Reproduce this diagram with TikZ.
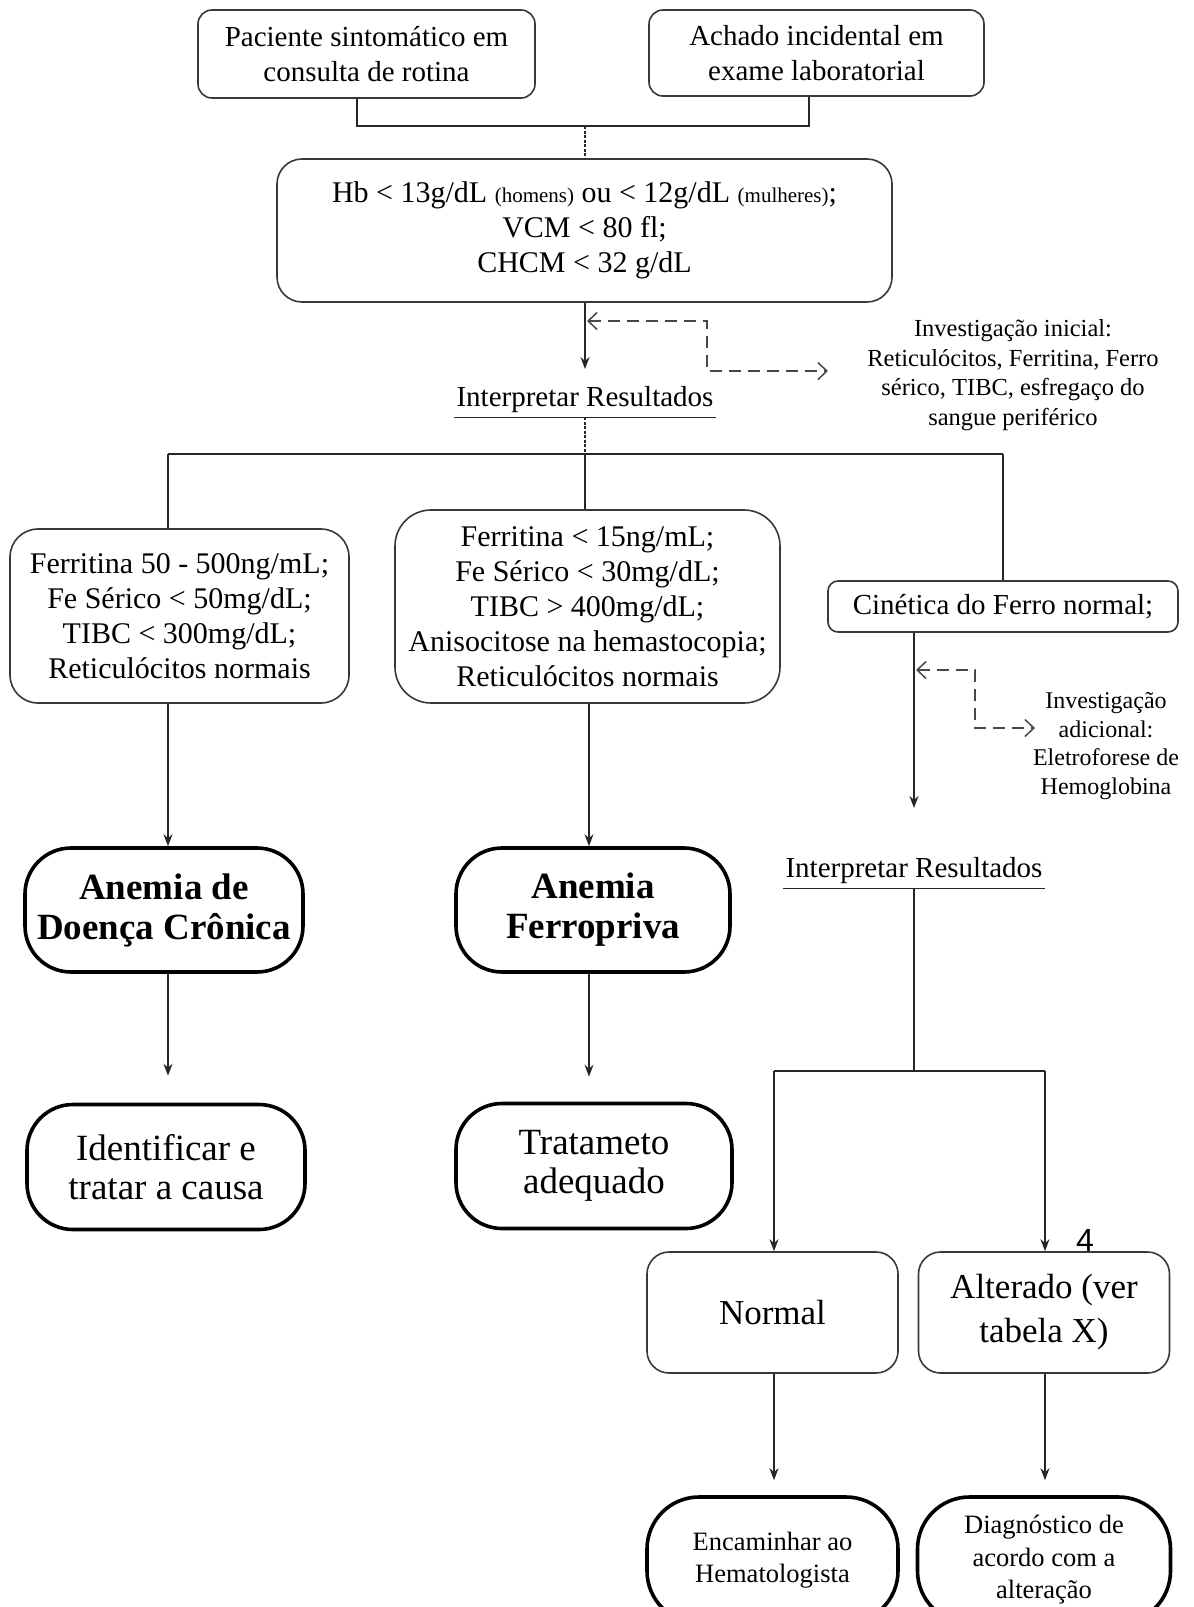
\documentclass[tikz,border=0pt]{standalone}
\usepackage{fontspec}
\setmainfont{Liberation Serif}
\newfontfamily\labelsans{Liberation Sans}
\usetikzlibrary{arrows.meta}
\begin{document}
\begin{tikzpicture}[x=1pt,y=-1pt,
  box/.style={draw=black!78, line width=1.6pt, rounded corners=#1, align=center, inner sep=0pt},
  box/.default=14pt,
  thick box/.style={draw=black, line width=3.6pt, rounded corners=#1, align=center, inner sep=0pt},
  thick box/.default=46pt,
  conn/.style={line width=1.4pt, draw=black!85},
  finedash/.style={conn, dash pattern=on 3pt off 1.5pt},
  arr/.style={conn, -{Stealth[length=12pt,width=9pt]}},
  dasharr/.style={line width=1.5pt, draw=black!72, dash pattern=on 12pt off 7pt,
     {Straight Barb[length=9pt,width=17pt]}-{Straight Barb[length=9pt,width=17pt]}},
  fA/.style={font=\fontsize{29}{35}\selectfont},
  fB/.style={font=\fontsize{30}{35}\selectfont},
  fS/.style={font=\fontsize{24.5}{29.5}\selectfont},
  fBig/.style={font=\fontsize{37}{40}\selectfont\bfseries},
  fBigR/.style={font=\fontsize{37}{39}\selectfont},
  fN/.style={font=\fontsize{35}{44}\selectfont},
  fE/.style={font=\fontsize{26.5}{32.5}\selectfont},
  ul/.style={inner xsep=2pt, inner ysep=0pt, minimum height=34pt},
]
\useasboundingbox (0,0) rectangle (1194,1607);

% top boxes
\node[box, fA, minimum width=337pt, minimum height=88pt] (b1) at (366.5,54) {Paciente sintomático em\\consulta de rotina};
\node[box, fA, minimum width=335pt, minimum height=86pt] (b2) at (816.5,53) {Achado incidental em\\exame laboratorial};
\node[box=25pt, fB, minimum width=615pt, minimum height=143pt] (b3) at (584.5,230.5)
  {Hb < 13g/dL {\fontsize{21}{25}\selectfont(homens)} ou < 12g/dL {\fontsize{21}{25}\selectfont(mulheres)};\\VCM < 80 fl;\\CHCM < 32 g/dL};

\coordinate (j1) at (357,126);
\coordinate (j2) at (809,126);
\coordinate (j0) at (585,126);
\draw[conn] (b1.south -| j1) -- (j1) -- (j2) -- (b2.south -| j2);
\draw[finedash] (j0) -- (b3.north -| j0);

% first interpretation
\coordinate (a1) at (585,369);
\draw[arr] (b3.south -| a1) -- (a1);
\coordinate (d1a) at (587,321);
\coordinate (d1b) at (707,321);
\coordinate (d1c) at (707,371);
\coordinate (d1d) at (828,371);
\draw[dasharr] (d1a) -- (d1b) -- (d1c) -- (d1d);
\node[fS, align=center] (inv1) at (1013,375) {Investigação inicial:\\Reticulócitos, Ferritina, Ferro\\sérico, TIBC, esfregaço do\\sangue periférico};

\node[fA, ul] (ir1) at (585,400) {Interpretar Resultados};
\draw[conn] (ir1.south west) -- (ir1.south east);
\coordinate (s1) at (585,454);
\coordinate (sL) at (168,454);
\coordinate (sR) at (1003,454);
\draw[finedash] (ir1.south) -- (s1);
\draw[conn] (sL) -- (sR);

% three branches
\node[box=28pt, fB, minimum width=339pt, minimum height=174pt] (bL) at (179.5,616)
  {Ferritina 50 - 500ng/mL;\\Fe Sérico < 50mg/dL;\\TIBC < 300mg/dL;\\Reticulócitos normais};
\node[box=36pt, fB, minimum width=385pt, minimum height=193pt] (bM) at (587.5,606.5)
  {Ferritina < 15ng/mL;\\Fe Sérico < 30mg/dL;\\TIBC > 400mg/dL;\\Anisocitose na hemastocopia;\\Reticulócitos normais};
\node[box=10pt, fA, minimum width=350pt, minimum height=51pt] (bR) at (1003,606.5)
  {Cinética do Ferro normal;};
\draw[conn] (sL) -- (bL.north -| sL);
\draw[conn] (s1) -- (bM.north -| s1);
\draw[conn] (sR) -- (bR.north);

% left column
\coordinate (cL) at (168,0);
\coordinate (cM) at (589,0);
\node[thick box, fBig, minimum width=278pt, minimum height=124pt] (aDC) at (164,910) {Anemia de\\Doença Crônica};
\node[thick box, fBigR, minimum width=278pt, minimum height=125pt] (iD) at (166,1167) {Identificar e\\tratar a causa};
\draw[arr] (bL.south -| cL) -- (aDC.north -| cL);
\draw[arr, shorten >=27pt] (aDC.south -| cL) -- (iD.north -| cL);

% middle column
\node[thick box, fBig, minimum width=274pt, minimum height=124pt] (aFe) at (593,910) {Anemia\\Ferropriva};
\node[thick box, fBigR, minimum width=276pt, minimum height=125pt] (tF) at (594,1166) {Tratameto\\adequado};
\draw[arr] (bM.south -| cM) -- (aFe.north -| cM);
\draw[arr, shorten >=25pt] (aFe.south -| cM) -- (tF.north -| cM);

% right column
\coordinate (a2) at (914,808);
\draw[arr] (bR.south -| a2) -- (a2);
\coordinate (d2a) at (916,670);
\coordinate (d2b) at (975,670);
\coordinate (d2c) at (975,728);
\coordinate (d2d) at (1035,728);
\draw[dasharr] (d2a) -- (d2b) -- (d2c) -- (d2d);
\node[font=\fontsize{24}{28.5}\selectfont, align=center] (inv2) at (1106,746) {Investigação\\adicional:\\Eletroforese de\\Hemoglobina};

\node[fA, ul] (ir2) at (914,871) {Interpretar Resultados};
\draw[conn] (ir2.south west) -- (ir2.south east);
\coordinate (s2) at (914,1071);
\coordinate (sN) at (774,1071);
\coordinate (sA) at (1045,1071);
\draw[conn] (ir2.south) -- (s2);
\draw[conn] (sN) -- (sA);

\node[box=22pt, fN, minimum width=251pt, minimum height=121pt] (nN) at (772.5,1312.5) {Normal};
\node[box=22pt, fN, minimum width=251pt, minimum height=121pt] (nA) at (1044,1312.5) {Alterado (ver\\tabela X)};
\draw[arr] (sN) -- (nN.north -| sN);
\draw[arr] (sA) -- (nA.north -| sA);

\node[thick box=52pt, fE, minimum width=251pt, minimum height=126pt] (eH) at (772.5,1560) {Encaminhar ao\\Hematologista};
\node[thick box=52pt, fE, minimum width=253pt, minimum height=126pt] (dA) at (1044,1560) {Diagnóstico de\\acordo com a\\alteração};
\draw[arr, shorten >=15pt] (nN.south -| sN) -- (eH.north -| sN);
\draw[arr, shorten >=15pt] (nA.south -| sA) -- (dA.north -| sA);

\node[font=\labelsans\fontsize{32}{36}\selectfont, inner sep=0pt] (pg) at (1085,1240) {4};
\end{tikzpicture}
\end{document}
